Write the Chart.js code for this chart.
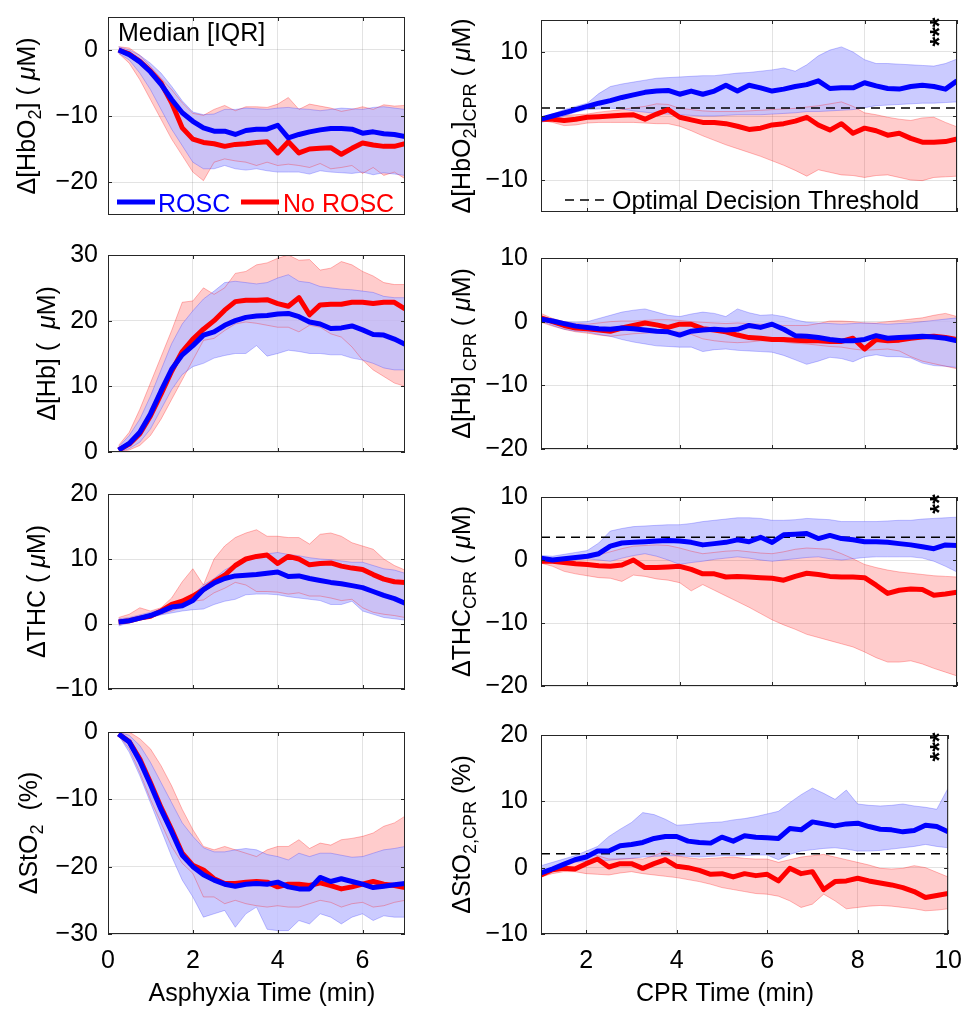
<!DOCTYPE html>
<html>
<head>
<meta charset="utf-8">
<title>ROSC vs No ROSC - NIRS medians</title>
<script src="https://cdn.jsdelivr.net/npm/chart.js@4.4.0/dist/chart.umd.min.js"></script>
<style>
  html, body { margin: 0; padding: 0; background: #fff; }
  #fig { position: relative; width: 974px; height: 1010px; overflow: hidden; }
  #fig canvas { position: absolute; }
</style>
</head>
<body>
<div id="fig"></div>
<script>
// ---- time axes (min) ----
var asphTime = [0.25,0.5,0.75,1,1.25,1.5,1.75,2,2.25,2.5,2.75,3,3.25,3.5,3.75,4,4.25,4.5,4.75,5,5.25,5.5,5.75,6,6.25,6.5,6.75,7];
var cprTime = [1,1.25,1.5,1.75,2,2.25,2.5,2.75,3,3.25,3.5,3.75,4,4.25,4.5,4.75,5,5.25,5.5,5.75,6,6.25,6.5,6.75,7,7.25,7.5,7.75,8,8.25,8.5,8.75,9,9.25,9.5,9.75,10];
var asphTicks = [0, 2, 4, 6];
var cprTicks = [2, 4, 6, 8, 10];
var groupNames = ['ROSC', 'No ROSC'];

// ---- asphyxia: d[HbO2] ----
var hbo2AsphRoscMed = [0,-0.7,-1.8,-3.3,-5.2,-7.5,-9.5,-10.8,-11.8,-12.3,-12.3,-12.8,-12.2,-12.0,-12.0,-11.4,-13.3,-12.8,-12.4,-12.1,-11.9,-11.9,-12.0,-12.6,-12.4,-12.7,-12.8,-13.1];
var hbo2AsphRoscLo = [-0.5,-1.5,-3.5,-6,-9,-12,-14.5,-17,-18,-18,-17.5,-18,-18.2,-18,-18.3,-18.5,-18.5,-18.5,-18.8,-18.3,-18.5,-18.6,-18.7,-18.5,-18.9,-18.6,-18.8,-19.0];
var hbo2AsphRoscHi = [0.5,0,-0.8,-2.0,-3.5,-5.5,-7.7,-9.4,-9.8,-9.7,-9.0,-9.0,-8.8,-8.9,-9.0,-8.8,-8.7,-8.9,-9.0,-9.2,-9.0,-8.8,-8.9,-9.0,-8.7,-8.6,-8.8,-9.0];
var hbo2AsphNoMed = [0,-0.6,-1.7,-3.2,-5.0,-8.0,-11.8,-13.5,-14.0,-14.2,-14.6,-14.3,-14.2,-14.0,-13.9,-15.6,-13.9,-15.6,-15.0,-14.9,-14.8,-15.8,-14.9,-14.1,-14.4,-14.6,-14.6,-14.2];
var hbo2AsphNoLo = [-0.5,-2,-4.5,-7.5,-10.5,-13.5,-16,-18.5,-19.8,-17.0,-16.5,-16.8,-17,-17.5,-17,-17.5,-17.3,-17.5,-17.8,-17.2,-18.0,-17.8,-17.5,-18.7,-17.8,-19.0,-18.5,-19.5];
var hbo2AsphNoHi = [0.5,0.3,-0.8,-2.5,-4.3,-6.0,-8.0,-9.6,-9.9,-9.0,-8.4,-9.2,-8.6,-8.6,-8.7,-8.2,-7.2,-9.0,-8.2,-8.5,-8.8,-9.3,-9.0,-8.6,-9.0,-8.3,-8.5,-8.4];

// ---- asphyxia: d[Hb] ----
var hbAsphRoscMed = [0.3,1.3,3.0,5.8,9.3,12.6,14.8,16.2,17.8,18.3,19.3,20.0,20.5,20.7,20.8,21.0,21.1,20.6,19.8,19.5,18.8,18.9,19.2,18.6,17.9,17.8,17.2,16.4];
var hbAsphRoscLo = [0,0.5,1.5,3.5,6.5,9.5,11.8,13.0,13.5,14.3,14.7,15.0,15.0,16.2,14.6,15.0,15.5,15.3,15.0,15.0,14.8,14.8,14.3,14.0,13.5,12.8,12.5,12.5];
var hbAsphRoscHi = [0.8,2.5,5.0,8.5,12.5,16.5,19.5,21.5,23.3,24.5,25.8,26.0,25.8,25.6,25.8,26.5,27.0,26.0,25.8,25.2,25.0,24.8,24.7,24.5,24.3,23.7,23.5,23.5];
var hbAsphNoMed = [0.3,1.2,2.8,5.5,8.8,12.3,15.3,17.2,18.7,20.0,21.6,22.9,23.1,23.1,23.2,22.6,22.2,23.5,20.9,22.4,22.5,22.5,22.8,22.8,22.6,22.8,22.8,21.8];
var hbAsphNoLo = [0,0.3,1.0,2.5,5.0,8.0,11.0,14.0,17.0,17.3,18.5,19.5,19.8,19.6,19.3,19.0,19.0,18.3,19.3,19.0,18.0,17.5,16.0,14.0,12.5,11.5,10.5,10.0];
var hbAsphNoHi = [1.0,3.0,6.5,10.5,14.5,18.5,22.8,23.0,25.0,24.0,25.0,27.2,27.5,28.5,28.8,29.5,30.0,29.2,29.3,27.7,28.0,29.0,28.5,27.5,26.8,25.8,25.5,25.5];

// ---- asphyxia: dTHC ----
var thcAsphRoscMed = [0.3,0.5,0.9,1.3,1.9,2.6,2.8,3.6,5.3,6.3,7.0,7.4,7.5,7.6,7.8,8.0,7.3,7.4,7.0,6.7,6.4,6.2,5.9,5.6,5.0,4.4,3.9,3.2];
var thcAsphRoscLo = [-0.3,0.2,0.6,1.0,1.4,1.7,2.0,2.2,2.3,3.0,3.5,3.8,4.5,4.6,4.6,4.5,4.2,4.0,3.8,3.6,3.0,3.0,3.5,2.0,1.5,1.0,0.8,0.6];
var thcAsphRoscHi = [0.8,1.0,1.4,1.8,2.3,3.0,3.7,4.5,6.0,7.0,8.3,9.2,10.0,10.5,10.8,11.0,10.7,10.5,10.2,10.0,9.9,9.7,9.5,9.5,9.0,8.5,8.3,7.8];
var thcAsphNoMed = [0.3,0.5,0.9,1.2,2.0,3.0,3.5,4.3,5.3,6.5,7.5,9.0,10.0,10.4,10.6,9.3,10.4,10.0,9.1,9.3,9.4,8.9,8.6,8.4,7.6,6.9,6.5,6.4];
var thcAsphNoLo = [0,0.3,0.8,1.0,1.5,2.0,2.6,3.5,3.7,4.8,5.5,6.4,6.0,5.0,5.0,4.9,4.6,4.8,4.3,4.3,4.0,3.6,3.8,2.5,1.8,1.5,1.3,1.0];
var thcAsphNoHi = [1.0,1.5,2.5,2.0,2.5,4.0,6.5,8.5,6.0,10.0,12.0,13.3,14.0,14.5,13.5,13.5,13.3,13.3,12.3,13.8,14.0,13.5,12.5,12.0,11.5,10.0,9.0,8.3];

// ---- asphyxia: dStO2 ----
var sto2AsphRoscMed = [-0.3,-1.5,-4.3,-7.8,-11.5,-14.8,-18.3,-20.0,-21.2,-22.0,-22.6,-22.9,-22.6,-22.5,-22.6,-22.3,-23.0,-23.3,-23.3,-21.6,-22.2,-21.8,-22.2,-22.6,-23.1,-22.9,-22.7,-22.5];
var sto2AsphRoscLo = [-0.5,-3,-6.5,-10.5,-14.5,-18.5,-22.0,-24.5,-27.5,-27.0,-26.5,-29.0,-27.0,-26.0,-29.3,-29.5,-29.5,-28.0,-28.5,-27.0,-27.5,-28.5,-27.5,-27.0,-28.0,-27.3,-27.5,-27.5];
var sto2AsphRoscHi = [0,-0.5,-2.0,-4.5,-7.5,-10.5,-13.5,-15.5,-17.2,-17.8,-17.8,-17.5,-17.3,-17.5,-18.2,-18.5,-19.0,-18.0,-18.5,-18.0,-18.0,-18.3,-18.6,-18.5,-18.0,-17.5,-17.3,-17.0];
var sto2AsphNoMed = [-0.3,-1.4,-4.0,-7.5,-11.2,-14.5,-18.0,-19.8,-20.5,-21.8,-22.5,-22.5,-22.3,-22.2,-22.3,-23.0,-22.6,-22.6,-22.8,-22.4,-22.8,-23.3,-23.0,-22.6,-22.2,-22.6,-22.8,-23.1];
var sto2AsphNoLo = [-0.5,-2.5,-6.0,-10.0,-13.5,-17.0,-19.5,-21.0,-24.5,-24.5,-25.5,-25.0,-25.5,-25.8,-26.0,-25.8,-26.0,-26.0,-25.5,-25.0,-25.3,-26.0,-25.5,-25.3,-26.0,-25.8,-25.3,-25.0];
var sto2AsphNoHi = [0,0,-1.0,-2.5,-5.0,-8.0,-11.5,-14.5,-17.0,-17.5,-17.0,-17.5,-18.0,-18.5,-17.5,-17.0,-17.0,-16.0,-17.3,-16.5,-16.8,-16.0,-15.8,-15.5,-15.0,-14.0,-13.5,-12.5];

// ---- CPR: d[HbO2] ----
var hbo2CprRoscMed = [-0.5,0.0,0.5,1.0,1.5,2.0,2.4,2.9,3.3,3.7,3.9,4.0,3.4,3.9,3.4,3.9,4.8,3.9,4.8,4.4,3.9,4.2,4.6,4.9,5.5,4.3,4.4,4.4,5.2,4.7,4.3,4.2,4.6,4.8,4.6,4.2,5.5];
var hbo2CprRoscLo = [-1.0,-0.6,0.0,0.6,1.0,1.1,1.2,1.1,0.8,0.6,0.4,0.3,0.2,0.1,0.0,0.0,0.1,0.2,0.2,0.2,0.3,0.4,0.5,0.7,0.7,0.8,0.9,1.0,1.3,1.6,1.7,1.8,1.9,2.0,2.0,2.1,2.2];
var hbo2CprRoscHi = [-0.3,0.3,1.0,1.5,2.0,3.5,4.6,5.0,5.3,5.6,5.9,6.0,6.1,6.2,6.3,6.3,6.5,6.7,6.8,7.0,7.2,7.5,7.0,8.0,9.4,10.3,10.8,10.0,8.8,8.2,8.2,8.1,8.0,7.9,7.8,8.2,8.9];
var hbo2CprNoMed = [-0.5,-0.5,-0.7,-0.5,-0.2,-0.1,0.0,0.1,0.2,-0.5,0.3,1.0,-0.2,-0.6,-1.0,-1.0,-1.2,-1.6,-2.1,-1.9,-1.4,-1.2,-0.8,-0.2,-1.4,-2.2,-1.2,-2.7,-1.9,-2.3,-3.0,-2.7,-3.5,-4.1,-4.1,-4.0,-3.6];
var hbo2CprNoLo = [-0.7,-1.0,-1.5,-1.4,-1.1,-1.0,-1.0,-1.0,-1.0,-1.1,-1.2,-1.2,-1.6,-2.3,-3.1,-3.8,-4.5,-5.1,-5.7,-6.3,-7.0,-7.7,-8.5,-9.4,-8.4,-8.8,-9.2,-9.3,-9.6,-9.3,-9.2,-9.6,-10.0,-10.1,-9.6,-9.5,-9.4];
var hbo2CprNoHi = [-0.2,0.0,0.1,0.2,0.3,0.6,0.8,1.0,1.3,1.5,1.9,1.8,1.2,1.0,0.8,0.7,0.7,0.7,0.8,0.9,1.0,1.1,1.2,1.4,1.6,1.9,2.2,1.5,0.5,0.2,-0.2,-0.5,-0.7,-0.3,-0.2,-1.0,-1.7];

// ---- CPR: d[Hb] ----
var hbCprRoscMed = [0.4,0.1,-0.3,-0.7,-0.9,-1.1,-1.2,-1.0,-1.1,-1.3,-1.5,-1.6,-2.1,-1.5,-1.3,-1.2,-1.3,-1.2,-0.6,-0.9,-0.4,-1.2,-2.2,-2.3,-2.5,-2.8,-3.0,-3.0,-2.8,-2.2,-2.6,-2.5,-2.4,-2.3,-2.4,-2.6,-3.0];
var hbCprRoscLo = [0.1,-0.6,-1.2,-1.5,-1.6,-2.0,-2.3,-2.8,-3.2,-3.5,-3.8,-3.9,-4.0,-4.0,-4.7,-4.4,-4.3,-4.5,-4.6,-4.7,-4.8,-5.3,-6.0,-6.7,-6.2,-5.6,-5.8,-6.3,-5.5,-5.2,-5.5,-5.5,-5.7,-6.5,-6.9,-7.0,-7.2];
var hbCprRoscHi = [0.8,0.4,0.0,-0.1,0.0,0.5,1.0,1.5,1.8,2.0,1.5,1.0,0.8,1.2,1.5,1.3,0.8,2.0,1.4,1.0,1.1,0.8,0.3,-0.1,-0.2,-0.3,-0.4,-0.3,-0.2,-0.3,-0.4,-0.3,-0.2,0.0,0.2,0.4,0.6];
var hbCprNoMed = [0.6,0.0,-0.6,-1.0,-1.1,-1.3,-1.5,-1.0,-0.6,-0.2,-0.5,-0.9,-0.4,-0.4,-1.1,-1.3,-1.6,-2.1,-2.5,-2.6,-2.8,-2.8,-2.9,-3.0,-3.0,-3.1,-3.1,-2.6,-4.3,-2.8,-3.0,-2.9,-2.6,-2.4,-2.3,-2.5,-2.8];
var hbCprNoLo = [-0.1,-0.7,-1.2,-1.6,-1.8,-2.1,-2.3,-2.1,-1.9,-1.8,-1.7,-1.6,-1.6,-2.0,-2.7,-3.0,-3.2,-3.3,-3.2,-3.0,-3.0,-3.2,-3.4,-3.5,-3.7,-3.9,-4.0,-4.3,-4.5,-4.4,-4.3,-4.6,-5.5,-6.2,-6.6,-7.0,-7.4];
var hbCprNoHi = [1.3,0.5,0.0,-0.3,-0.4,-0.2,0.0,0.1,0.1,0.2,0.3,0.3,0.2,0.0,-0.1,-0.2,-0.3,-0.2,-0.3,-0.4,-0.5,-0.6,-0.6,-0.6,-0.3,0.1,0.1,0.0,-0.2,-0.2,0.0,0.2,0.4,0.6,1.0,1.3,0.8];

// ---- CPR: dTHC ----
var thcCprRoscMed = [0.3,0.0,0.2,0.4,0.6,1.0,2.2,2.7,2.8,2.9,3.0,3.1,3.0,2.8,2.4,2.6,2.8,3.2,2.9,3.6,2.8,4.0,4.1,4.2,3.4,3.9,3.4,3.2,2.9,2.9,2.8,2.6,2.4,2.1,1.8,2.4,2.3];
var thcCprRoscLo = [-0.3,-0.2,0.0,0.1,0.2,0.0,-0.2,0.3,0.7,1.0,0.6,0.0,-0.7,-0.4,-0.2,0.1,0.3,0.5,0.3,0.0,-0.2,0.0,0.2,0.4,0.5,0.2,0.0,0.2,0.4,0.5,0.5,0.5,0.5,0.3,-0.2,-1.0,-1.9];
var thcCprRoscHi = [0.7,0.6,0.9,1.2,1.5,2.7,4.6,5.0,5.3,5.4,5.5,5.6,5.6,5.8,6.1,6.3,6.5,6.7,6.7,6.6,6.3,6.3,6.4,6.6,6.5,6.4,6.1,6.1,6.1,6.1,6.2,6.3,6.3,6.5,6.6,6.7,6.8];
var thcCprNoMed = [-0.2,-0.2,-0.4,-0.6,-0.7,-0.9,-1.0,-0.8,0.0,-1.2,-1.2,-1.1,-1.0,-1.5,-2.2,-2.2,-2.7,-2.6,-2.7,-2.8,-2.9,-3.2,-2.6,-2.1,-2.3,-2.6,-2.7,-2.7,-2.8,-4.0,-5.3,-4.8,-4.6,-4.7,-5.6,-5.4,-5.1];
var thcCprNoLo = [-0.5,-1.0,-1.8,-2.2,-2.5,-2.8,-2.9,-3.4,-2.4,-2.6,-3.0,-3.2,-3.6,-4.9,-3.9,-4.8,-5.7,-6.6,-7.5,-8.5,-9.5,-10.3,-11.0,-11.8,-12.3,-12.8,-13.3,-13.8,-14.6,-15.5,-16.2,-16.2,-16.0,-16.5,-17.2,-17.8,-18.4];
var thcCprNoHi = [0.2,0.0,-0.1,0.0,0.3,0.8,1.3,1.8,2.2,2.3,2.4,2.3,1.9,1.4,1.0,1.2,1.4,1.5,1.3,1.1,1.0,1.3,1.7,1.9,1.8,1.7,1.0,0.2,-0.7,-1.2,-1.6,-1.9,-2.1,-2.3,-2.5,-2.6,-2.7];

// ---- CPR: dStO2 ----
var sto2CprRoscMed = [-0.8,-0.2,0.5,1.2,1.6,2.5,2.5,3.3,3.5,3.8,4.4,4.7,4.7,4.0,3.8,3.7,4.6,4.0,4.8,4.6,4.5,4.4,5.9,5.7,6.9,6.6,6.3,6.6,6.7,6.2,5.8,5.7,5.4,5.6,6.4,6.2,5.4];
var sto2CprRoscLo = [-1.1,-0.3,0.3,0.8,1.0,1.1,1.1,1.3,1.4,1.6,1.7,1.8,1.8,1.7,1.6,1.7,1.8,1.8,1.8,1.9,1.9,1.2,2.0,2.5,2.7,2.9,3.0,2.8,2.5,2.5,2.6,2.8,3.0,3.2,3.5,3.2,3.0];
var sto2CprRoscHi = [0.3,0.8,1.3,1.8,2.5,3.2,4.7,5.8,6.8,8.3,8.0,7.3,6.4,6.5,6.7,6.8,6.9,7.2,7.4,7.7,8.1,8.5,9.8,11.0,12.0,11.2,10.3,11.7,9.6,9.4,9.3,9.4,9.6,9.3,9.1,8.8,12.0];
var sto2CprNoMed = [-1.1,-0.3,-0.1,-0.2,0.6,1.3,0.1,0.6,0.6,-0.1,0.6,1.2,0.2,0.0,-0.4,-1.0,-0.9,-1.4,-0.9,-1.2,-1.0,-2.0,-0.1,-0.9,-0.6,-3.3,-2.1,-2.0,-1.6,-2.0,-2.3,-2.6,-3.0,-3.6,-4.5,-4.2,-3.9];
var sto2CprNoLo = [-1.4,-0.9,-0.6,-0.6,-0.9,-1.0,-1.1,-0.8,-0.6,-0.9,-1.1,-1.3,-1.5,-1.8,-2.1,-2.5,-3.0,-3.3,-3.6,-3.9,-4.0,-4.3,-5.0,-6.0,-5.5,-4.0,-5.0,-6.2,-6.0,-5.8,-5.7,-5.8,-6.0,-6.2,-6.5,-6.4,-6.2];
var sto2CprNoHi = [-0.6,0.0,0.4,1.0,2.0,1.8,1.3,1.3,1.4,1.3,1.8,2.5,1.8,1.5,1.3,1.4,1.5,1.6,1.4,1.3,1.3,0.8,1.2,1.6,1.8,2.0,1.6,1.2,0.8,0.4,-0.1,-0.2,-0.1,0.3,0.0,-0.7,-1.4];

// optimal decision thresholds (CPR panels)
var hbo2Threshold = 1.25;
var thcThreshold = 3.6;
var sto2Threshold = 2.1;

// y tick values
var hbo2AsphYTicks = [-20, -10, 0];
var hbAsphYTicks = [0, 10, 20, 30];
var thcAsphYTicks = [-10, 0, 10, 20];
var sto2AsphYTicks = [-30, -20, -10, 0];
var hbo2CprYTicks = [-10, 0, 10];
var hbCprYTicks = [-20, -10, 0, 10];
var thcCprYTicks = [-20, -10, 0, 10];
var sto2CprYTicks = [-10, 0, 10, 20];

// ---- styling / layout ----
var FONT = '"Liberation Sans", Arial, Helvetica, sans-serif';
var BLUE = '#0000ff', RED = '#ff0000';
var BLUE_FILL = 'rgba(190,190,255,0.8)', RED_FILL = 'rgba(255,0,0,0.2)';
var BLUE_EDGE = 'rgba(0,0,255,0.22)', RED_EDGE = 'rgba(255,0,0,0.28)';
var GRID = 'rgba(38,38,38,0.13)', AXIS = '#262626';
var ROW_TOP = [12, 250, 489, 727];
var ROW_BOT = [220, 457, 694, 934];
var COLS = [
  {left: 0, width: 420, plotL: 108, plotR: 405, tickPad: 10, titleX: [35, 55, 45, 37], xTitleX: 262, xTitle: 'Asphyxia Time (min)'},
  {left: 420, width: 554, plotL: 541, plotR: 957, tickPad: 13, titleX: [470, 470, 470, 470], xTitleX: 725, xTitle: 'CPR Time (min)'}
];

// axis titles with subscripts: n = normal, s = subscript, i = italic
var muM = [[' ( ', 'n'], ['\u03bc', 'i'], ['M)', 'n']];
var panels = [
  {col: 0, row: 0, yMin: -25, yMax: 5, yTicks: hbo2AsphYTicks,
   rosc: [hbo2AsphRoscMed, hbo2AsphRoscLo, hbo2AsphRoscHi], none: [hbo2AsphNoMed, hbo2AsphNoLo, hbo2AsphNoHi],
   title: [['\u0394[HbO', 'n'], ['2', 's'], [']', 'n']].concat(muM), legend: true},
  {col: 1, row: 0, yMin: -15, yMax: 15, yTicks: hbo2CprYTicks,
   rosc: [hbo2CprRoscMed, hbo2CprRoscLo, hbo2CprRoscHi], none: [hbo2CprNoMed, hbo2CprNoLo, hbo2CprNoHi],
   title: [['\u0394[HbO', 'n'], ['2', 's'], [']', 'n'], ['CPR', 's']].concat(muM),
   threshold: hbo2Threshold, thresholdLegend: true, sig: '***', sigY: 32},
  {col: 0, row: 1, yMin: 0, yMax: 30, yTicks: hbAsphYTicks,
   rosc: [hbAsphRoscMed, hbAsphRoscLo, hbAsphRoscHi], none: [hbAsphNoMed, hbAsphNoLo, hbAsphNoHi],
   title: [['\u0394[Hb] (  ', 'n'], ['\u03bc', 'i'], ['M)', 'n']]},
  {col: 1, row: 1, yMin: -20, yMax: 10, yTicks: hbCprYTicks,
   rosc: [hbCprRoscMed, hbCprRoscLo, hbCprRoscHi], none: [hbCprNoMed, hbCprNoLo, hbCprNoHi],
   title: [['\u0394[Hb]', 'n'], [' CPR', 's']].concat(muM)},
  {col: 0, row: 2, yMin: -10, yMax: 20, yTicks: thcAsphYTicks,
   rosc: [thcAsphRoscMed, thcAsphRoscLo, thcAsphRoscHi], none: [thcAsphNoMed, thcAsphNoLo, thcAsphNoHi],
   title: [['\u0394THC', 'n']].concat(muM)},
  {col: 1, row: 2, yMin: -20, yMax: 10, yTicks: thcCprYTicks,
   rosc: [thcCprRoscMed, thcCprRoscLo, thcCprRoscHi], none: [thcCprNoMed, thcCprNoLo, thcCprNoHi],
   title: [['\u0394THC', 'n'], ['CPR', 's']].concat(muM),
   threshold: thcThreshold, sig: '**', sigY: 504},
  {col: 0, row: 3, yMin: -30, yMax: 0, yTicks: sto2AsphYTicks,
   rosc: [sto2AsphRoscMed, sto2AsphRoscLo, sto2AsphRoscHi], none: [sto2AsphNoMed, sto2AsphNoLo, sto2AsphNoHi],
   title: [['\u0394StO', 'n'], ['2', 's'], ['  (%)', 'n']]},
  {col: 1, row: 3, yMin: -10, yMax: 20, yTicks: sto2CprYTicks,
   rosc: [sto2CprRoscMed, sto2CprRoscLo, sto2CprRoscHi], none: [sto2CprNoMed, sto2CprNoLo, sto2CprNoHi],
   title: [['\u0394StO', 'n'], ['2,CPR', 's'], [' (%)', 'n']],
   threshold: sto2Threshold, sig: '***', sigY: 747}
];

function segFont(style) {
  if (style === 's') return '18px ' + FONT;
  if (style === 'i') return 'italic 25px ' + FONT;
  return '25px ' + FONT;
}

// matlab style tick text: real minus sign
function tickText(v) {
  return String(v).replace('-', '\u2212');
}

// rotated y label, x = baseline, y = centre
function drawYTitle(ctx, segs, x, y) {
  ctx.save();
  ctx.translate(x, y);
  ctx.rotate(-Math.PI / 2);
  var total = 0;
  segs.forEach(function(s) { ctx.font = segFont(s[1]); total += ctx.measureText(s[0]).width; });
  var cx = -total / 2;
  ctx.fillStyle = '#000';
  ctx.textAlign = 'left';
  ctx.textBaseline = 'alphabetic';
  segs.forEach(function(s) {
    ctx.font = segFont(s[1]);
    ctx.fillText(s[0], cx, s[1] === 's' ? 6 : 0);
    cx += ctx.measureText(s[0]).width;
  });
  ctx.restore();
}

function decoPlugin(p, c, cTop) {
  return {
    id: 'deco',
    afterDraw: function(chart) {
      var ctx = chart.ctx, a = chart.chartArea;
      var sx = chart.scales.x, sy = chart.scales.y;
      var ox = c.left, oy = cTop;
      ctx.save();
      // inward tick marks + box
      ctx.strokeStyle = AXIS;
      ctx.lineWidth = 1;
      ctx.beginPath();
      sx.ticks.forEach(function(t) {
        var px = Math.round(sx.getPixelForValue(t.value)) + 0.5;
        ctx.moveTo(px, a.bottom); ctx.lineTo(px, a.bottom - 4);
        ctx.moveTo(px, a.top); ctx.lineTo(px, a.top + 4);
      });
      sy.ticks.forEach(function(t) {
        var py = Math.round(sy.getPixelForValue(t.value)) + 0.5;
        ctx.moveTo(a.left, py); ctx.lineTo(a.left + 4, py);
        ctx.moveTo(a.right, py); ctx.lineTo(a.right - 4, py);
      });
      ctx.stroke();
      ctx.strokeRect(a.left + 0.5, a.top + 0.5, a.right - a.left - 1, a.bottom - a.top - 1);

      drawYTitle(ctx, p.title, c.titleX[p.row] - ox, (a.top + a.bottom) / 2);

      ctx.font = '25px ' + FONT;
      ctx.textBaseline = 'alphabetic';
      if (p.row === 3) {
        ctx.fillStyle = '#000';
        ctx.textAlign = 'center';
        ctx.fillText(c.xTitle, c.xTitleX - ox, 1001 - oy);
      }
      if (p.legend) {
        ctx.textAlign = 'left';
        ctx.fillStyle = '#000';
        ctx.fillText('Median [IQR]', 118 - ox, 41 - oy);
        ctx.lineWidth = 5;
        ctx.strokeStyle = BLUE;
        ctx.beginPath(); ctx.moveTo(117 - ox, 202 - oy); ctx.lineTo(155 - ox, 202 - oy); ctx.stroke();
        ctx.fillStyle = BLUE;
        ctx.fillText(groupNames[0], 158 - ox, 212 - oy);
        ctx.strokeStyle = RED;
        ctx.beginPath(); ctx.moveTo(241 - ox, 202 - oy); ctx.lineTo(279 - ox, 202 - oy); ctx.stroke();
        ctx.fillStyle = RED;
        ctx.fillText(groupNames[1], 283 - ox, 212 - oy);
      }
      if (p.thresholdLegend) {
        ctx.strokeStyle = '#000';
        ctx.lineWidth = 1.5;
        ctx.setLineDash([9, 6]);
        ctx.beginPath(); ctx.moveTo(565 - ox, 200 - oy); ctx.lineTo(607 - ox, 200 - oy); ctx.stroke();
        ctx.setLineDash([]);
        ctx.fillStyle = '#000';
        ctx.textAlign = 'left';
        ctx.fillText('Optimal Decision Threshold', 612 - ox, 209 - oy);
      }
      if (p.sig) {
        ctx.save();
        ctx.font = 'bold 25px ' + FONT;
        ctx.translate(935 - ox, p.sigY - oy);
        ctx.rotate(-Math.PI / 2);
        var m = ctx.measureText(p.sig);
        ctx.textAlign = 'center';
        ctx.fillStyle = '#000';
        ctx.fillText(p.sig, 0, (m.actualBoundingBoxAscent - m.actualBoundingBoxDescent) / 2);
        ctx.restore();
      }
      ctx.restore();
    }
  };
}

function makePanel(p) {
  var c = COLS[p.col];
  var top = ROW_TOP[p.row], bot = ROW_BOT[p.row];
  var cTop = top - 20;
  var cH = p.row === 3 ? 1010 - cTop : bot + 20 - cTop;
  var xs = p.col === 0 ? asphTime : cprTime;
  var xTicks = p.col === 0 ? asphTicks : cprTicks;
  var xMin = p.col === 0 ? 0 : 1, xMax = p.col === 0 ? 7 : 10;

  var cv = document.createElement('canvas');
  cv.width = c.width;
  cv.height = cH;
  cv.style.left = c.left + 'px';
  cv.style.top = cTop + 'px';
  document.getElementById('fig').appendChild(cv);

  function pts(arr) { return arr.map(function(v, i) { return {x: xs[i], y: v}; }); }
  function band(arr, fill, bg, order) {
    return {data: pts(arr), borderColor: 'rgba(0,0,0,0)', borderWidth: 0, fill: fill, backgroundColor: bg, order: order};
  }
  function edge(arr, color, order) {
    return {data: pts(arr), borderColor: color, borderWidth: 1, fill: false, order: order};
  }

  var datasets = [
    band(p.none[1], false, 'rgba(0,0,0,0)', 20),
    band(p.none[2], '-1', RED_FILL, 19),
    band(p.rosc[1], false, 'rgba(0,0,0,0)', 18),
    band(p.rosc[2], '-1', BLUE_FILL, 17),
    edge(p.none[1], RED_EDGE, 16),
    edge(p.none[2], RED_EDGE, 16),
    edge(p.rosc[1], BLUE_EDGE, 15),
    edge(p.rosc[2], BLUE_EDGE, 15),
    {label: groupNames[1], data: pts(p.none[0]), borderColor: RED, borderWidth: 5, fill: false, order: 2},
    {label: groupNames[0], data: pts(p.rosc[0]), borderColor: BLUE, borderWidth: 5, fill: false, order: 1}
  ];
  if (p.threshold !== undefined) {
    datasets.push({data: [{x: xMin, y: p.threshold}, {x: xMax, y: p.threshold}],
      borderColor: '#000', borderWidth: 1.5, borderDash: [9, 6], fill: false, order: 3});
  }

  new Chart(cv, {
    type: 'line',
    data: {datasets: datasets},
    options: {
      responsive: false,
      animation: false,
      devicePixelRatio: 1,
      events: [],
      layout: {padding: {top: 20, left: 0, bottom: 0, right: c.left + c.width - c.plotR}},
      elements: {point: {radius: 0}, line: {tension: 0, borderJoinStyle: 'round'}},
      plugins: {legend: {display: false}, tooltip: {enabled: false}},
      scales: {
        x: {
          type: 'linear', min: xMin, max: xMax,
          afterBuildTicks: function(s) { s.ticks = xTicks.map(function(v) { return {value: v}; }); },
          afterFit: function(s) { s.height = cH - 20 - (bot - top); },
          grid: {color: GRID, drawTicks: false},
          border: {display: false},
          ticks: {display: p.row === 3, padding: 12, color: '#000', font: {family: FONT, size: 25}, callback: tickText}
        },
        y: {
          type: 'linear', min: p.yMin, max: p.yMax,
          afterBuildTicks: function(s) { s.ticks = p.yTicks.map(function(v) { return {value: v}; }); },
          afterFit: function(s) { s.width = c.plotL - c.left; },
          grid: {color: GRID, drawTicks: false},
          border: {display: false},
          ticks: {padding: c.tickPad, color: '#000', font: {family: FONT, size: 25}, callback: tickText}
        }
      }
    },
    plugins: [decoPlugin(p, c, cTop)]
  });
}

panels.forEach(makePanel);
</script>
</body>
</html>
